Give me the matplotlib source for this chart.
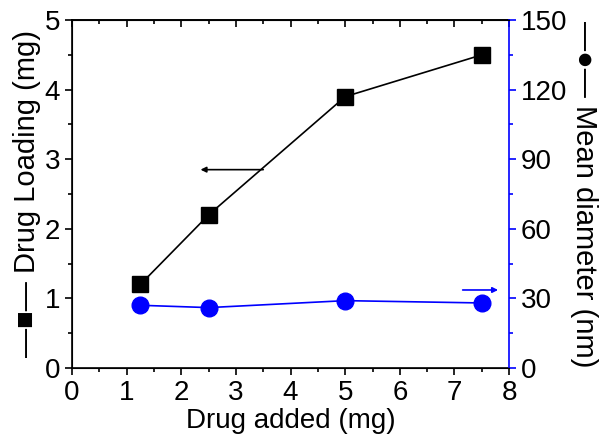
import matplotlib.pyplot as plt
from matplotlib.ticker import MultipleLocator

drug_added = [1.25, 2.5, 5.0, 7.5]
drug_loading = [1.2, 2.2, 3.9, 4.5]
mean_diameter = [27, 26, 29, 28]

plt.rcParams['font.family'] = ['Liberation Sans', 'DejaVu Sans']

fig = plt.figure(figsize=(6.01, 4.47), dpi=100)
ax = fig.add_axes([0.12, 0.177, 0.727, 0.778])
ax2 = ax.twinx()

ax.plot(drug_added, drug_loading, color='black', lw=1.2, marker='s', ms=12,
        markerfacecolor='black', zorder=3)
ax2.plot(drug_added, mean_diameter, color='blue', lw=1.2, marker='o', ms=12,
         markerfacecolor='blue', markeredgecolor='blue')

ax.set_xlim(0, 8)
ax.set_ylim(0, 5)
ax2.set_ylim(0, 150)

ax.xaxis.set_major_locator(MultipleLocator(1))
ax.xaxis.set_minor_locator(MultipleLocator(0.5))
ax.yaxis.set_major_locator(MultipleLocator(1))
ax.yaxis.set_minor_locator(MultipleLocator(0.5))
ax2.yaxis.set_major_locator(MultipleLocator(30))
ax2.yaxis.set_minor_locator(MultipleLocator(15))

ax.tick_params(axis='both', which='major', labelsize=20, direction='out', length=5, width=1.2)
ax.tick_params(axis='both', which='minor', direction='out', length=3, width=1.2)
ax2.tick_params(axis='y', which='major', labelsize=20, direction='out', length=5, width=1.2,
                colors='blue', labelcolor='black')
ax2.tick_params(axis='y', which='minor', direction='out', length=3, width=1.2, colors='blue')

# top axis: inward ticks, no labels
top = ax.secondary_xaxis('top')
top.xaxis.set_major_locator(MultipleLocator(1))
top.xaxis.set_minor_locator(MultipleLocator(0.5))
top.tick_params(which='major', direction='in', length=5, width=1.2, labeltop=False)
top.tick_params(which='minor', direction='in', length=3, width=1.2)
top.spines['top'].set_linewidth(1.2)

for s in ['left', 'bottom', 'top']:
    ax.spines[s].set_linewidth(1.2)
ax2.spines['right'].set_color('blue')
ax2.spines['right'].set_linewidth(1.2)
ax.spines['right'].set_visible(False)

ax.set_xlabel('Drug added (mg)', fontsize=20, labelpad=2)
ax.set_ylabel('\u2014\u25a0\u2014 Drug Loading (mg)', fontsize=21, labelpad=3)
ax2.set_ylabel('\u2014\u25cf\u2014 Mean diameter (nm)', fontsize=21, rotation=270,
               labelpad=22)

ax.annotate('', xy=(2.3, 2.85), xytext=(3.55, 2.85),
            arrowprops=dict(arrowstyle='-|>', color='black', lw=1.2, mutation_scale=8))
ax.annotate('', xy=(7.85, 1.12), xytext=(7.1, 1.12),
            arrowprops=dict(arrowstyle='-|>', color='blue', lw=1.2, mutation_scale=8))

fig.savefig('out.png', dpi=100)
